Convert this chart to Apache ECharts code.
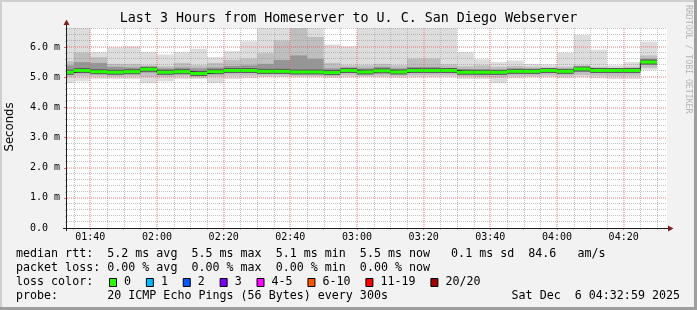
<!DOCTYPE html>
<html><head><meta charset="utf-8">
<script src="https://cdn.jsdelivr.net/npm/echarts@6/dist/echarts.min.js"></script>
<style>html,body{margin:0;padding:0;background:#f2f2f2}#c{width:697px;height:310px}</style>
</head><body><div id="c"></div>
<script>
// ---------------- data ----------------
const chartTitle = 'Last 3 Hours from Homeserver to U. C. San Diego Webserver';
const viewStart = '01:33';
const viewEnd = '04:33';
// 5-minute step edges (36 steps)
const stepEdges = ['01:30','01:35','01:40','01:45','01:50','01:55','02:00','02:05','02:10','02:15','02:20','02:25',
  '02:30','02:35','02:40','02:45','02:50','02:55','03:00','03:05','03:10','03:15','03:20','03:25',
  '03:30','03:35','03:40','03:45','03:50','03:55','04:00','04:05','04:10','04:15','04:20','04:25','04:30'];
// values in ms
const medianRtt = [5.17,5.23,5.19,5.17,5.19,5.27,5.17,5.19,5.13,5.19,5.23,5.23,5.20,5.20,5.18,5.18,5.16,5.23,
  5.18,5.22,5.18,5.23,5.23,5.23,5.17,5.17,5.17,5.20,5.20,5.23,5.20,5.28,5.23,5.23,5.23,5.51];
const smokeMax = [6.64,6.64,5.84,6.00,6.03,5.84,5.76,5.84,5.95,5.67,5.87,6.20,6.64,6.64,6.64,6.64,6.09,6.03,
  6.64,6.64,6.64,6.64,6.64,6.64,5.84,5.60,5.51,5.56,5.45,5.43,5.82,6.41,5.92,5.40,5.51,6.19];
const smokeHigh = [5.54,5.82,5.67,5.45,5.45,5.40,5.37,5.48,5.40,5.48,5.58,5.62,5.80,6.22,6.64,6.34,5.48,5.40,
  5.40,5.45,5.40,5.62,5.62,5.43,5.37,5.40,5.35,5.38,5.35,5.33,5.35,5.40,5.35,5.32,5.35,5.73];
const smokeUpper = [5.40,5.51,5.48,5.35,5.33,5.33,5.30,5.33,5.30,5.33,5.38,5.40,5.45,5.58,5.73,5.62,5.30,5.33,
  5.30,5.35,5.30,5.35,5.35,5.32,5.28,5.27,5.25,5.30,5.28,5.28,5.27,5.35,5.30,5.28,5.30,5.62];
const smokeLower = [5.10,5.14,5.12,5.10,5.12,5.16,5.10,5.12,5.06,5.12,5.15,5.15,5.13,5.13,5.11,5.12,5.10,5.16,
  5.11,5.14,5.11,5.16,5.16,5.16,5.10,5.09,5.08,5.13,5.13,5.16,5.13,5.18,5.16,5.15,5.16,5.42];
const smokeLow = [5.02,5.05,5.05,5.03,5.05,5.02,5.02,5.05,5.00,5.03,5.06,5.06,5.06,5.06,5.05,5.05,5.04,5.07,
  5.05,5.06,5.05,5.07,5.07,5.07,5.03,5.02,5.00,5.05,5.05,5.07,5.05,5.08,5.06,5.05,5.06,5.32];
const smokeMin = [4.81,4.87,4.95,4.95,4.95,4.81,4.87,4.95,4.95,4.81,4.95,4.97,5.01,5.01,5.00,5.00,4.98,5.00,
  5.01,5.00,4.98,5.00,5.00,5.01,4.95,4.95,4.81,4.97,5.00,5.00,4.97,5.00,4.97,4.95,4.95,5.25];
const xTickLabels = ['01:40','02:00','02:20','02:40','03:00','03:20','03:40','04:00','04:20'];
const yTickValues = [0,1,2,3,4,5,6];
const yTickLabels = ['0.0  ','1.0 m','2.0 m','3.0 m','4.0 m','5.0 m','6.0 m'];
const yMax = 6.64;
const lossLabels = ['0','1','2','3','4-5','6-10','11-19','20/20'];
const lossColors = ['#26ff00','#00b8ff','#0059ff','#7e00ff','#ff00ff','#ff5500','#ff0000','#a10000'];
const legendLines = [
  'median rtt:  5.2 ms avg  5.5 ms max  5.1 ms min  5.5 ms now   0.1 ms sd  84.6   am/s',
  'packet loss: 0.00 % avg  0.00 % max  0.00 % min  0.00 % now',
  'loss color:',
  'probe:       20 ICMP Echo Pings (56 Bytes) every 300s'
];
const stampText = 'Sat Dec  6 04:32:59 2025';
const yName = 'Seconds';
const watermark = 'RRDTOOL / TOBI OETIKER';

// ---------------- helpers ----------------
const MONO = 'DejaVu Sans Mono';
const toMin = s => { const p = s.split(':').map(Number); return p[0] * 60 + p[1]; };
const X_MIN = toMin(viewStart), X_MAX = toMin(viewEnd);
const majorX = xTickLabels.map(toMin);
const minorX = [];
for (let m = Math.ceil(X_MIN / 5) * 5; m <= X_MAX; m += 5) if (majorX.indexOf(m) < 0) minorX.push(m);
const minorY = [];
for (let k = 1; k * 0.2 <= yMax + 1e-9; k++) if (k % 5 !== 0) minorY.push(+(k * 0.2).toFixed(1));

const GRID_MINOR = 'rgba(143,143,143,0.55)';
const GRID_MAJOR = 'rgba(230,70,70,0.7)';

function band(lo, hi) {
  return medianRtt.map((_, i) => [toMin(stepEdges[i]), toMin(stepEdges[i + 1]), lo[i], hi[i]]);
}
function rectRenderer(color) {
  return function (params, api) {
    const a = api.coord([api.value(0), api.value(3)]);
    const b = api.coord([api.value(1), api.value(2)]);
    const cs = params.coordSys;
    const r = echarts.graphic.clipRectByRect(
      { x: a[0], y: a[1], width: b[0] - a[0], height: b[1] - a[1] },
      { x: cs.x, y: cs.y, width: cs.width, height: cs.height });
    if (!r) return;
    return { type: 'rect', shape: r, style: { fill: color } };
  };
}
function segRenderer(color, width) {
  return function (params, api) {
    const cs = params.coordSys;
    const a = api.coord([api.value(0), api.value(2)]);
    const b = api.coord([api.value(1), api.value(2)]);
    const x1 = Math.max(a[0], cs.x), x2 = Math.min(b[0], cs.x + cs.width);
    if (x2 <= x1) return;
    return { type: 'line', shape: { x1: x1, y1: a[1], x2: x2, y2: a[1] }, style: { stroke: color, lineWidth: width } };
  };
}
function vGrid(color, off) {
  return function (params, api) {
    const cs = params.coordSys;
    const x = Math.round(api.coord([api.value(0), 0])[0]) + off;
    return { type: 'line', shape: { x1: x, y1: cs.y, x2: x, y2: cs.y + cs.height },
      style: { stroke: color, lineWidth: 1, lineDash: [1, 1] } };
  };
}
function hGrid(color, off) {
  return function (params, api) {
    const cs = params.coordSys;
    const y = Math.round(api.coord([X_MIN, api.value(1)])[1]) - off;
    return { type: 'line', shape: { x1: cs.x, y1: y, x2: cs.x + cs.width, y2: y },
      style: { stroke: color, lineWidth: 1, lineDash: [1, 1] } };
  };
}
const medData = medianRtt.map((v, i) => [toMin(stepEdges[i]), toMin(stepEdges[i + 1]), v]);
const stepLine = medianRtt.map((v, i) => [toMin(stepEdges[i]), v]);
stepLine.push([toMin(stepEdges[stepEdges.length - 1]), medianRtt[medianRtt.length - 1]]);

function smokeSeries(lo, hi, color) {
  return { type: 'custom', z: 1, silent: true,
    renderItem: rectRenderer(color), encode: { x: [0, 1], y: [2, 3] }, data: band(lo, hi) };
}
function gridSeries(render, data) {
  return { type: 'custom', z: 3, silent: true, renderItem: render, encode: { x: 0, y: 1 }, data: data };
}

// ---------------- graphic (texts & frame) ----------------
const CH = 0.6021 * 11.67;
const graphic = [
  { type: 'rect', shape: { x: 0, y: 0, width: 697, height: 2 }, style: { fill: '#cfcfcf' }, silent: true },
  { type: 'rect', shape: { x: 0, y: 0, width: 2, height: 310 }, style: { fill: '#cfcfcf' }, silent: true },
  { type: 'rect', shape: { x: 0, y: 307, width: 697, height: 3 }, style: { fill: '#9e9e9e' }, silent: true },
  { type: 'rect', shape: { x: 694, y: 0, width: 3, height: 310 }, style: { fill: '#9e9e9e' }, silent: true },
  { type: 'line', shape: { x1: 66.5, y1: 231, x2: 66.5, y2: 24 }, style: { stroke: '#1f1f1f', lineWidth: 1 }, z: 10 },
  { type: 'line', shape: { x1: 63, y1: 228.5, x2: 668, y2: 228.5 }, style: { stroke: '#1f1f1f', lineWidth: 1 }, z: 10 },
  { type: 'polygon', shape: { points: [[63.5, 25], [69.5, 25], [66.5, 19.5]] }, style: { fill: '#801f1f' }, z: 10 },
  { type: 'polygon', shape: { points: [[668, 225.5], [668, 231.5], [673.5, 228.5]] }, style: { fill: '#801f1f' }, z: 10 },
  { type: 'text', x: 10, y: 127, rotation: Math.PI / 2,
    style: { text: yName, font: '11.67px "DejaVu Sans"', fill: '#000', align: 'center', verticalAlign: 'middle' } },
  { type: 'text', x: 688, y: 5, rotation: -Math.PI / 2,
    style: { text: watermark, font: '8.2px "DejaVu Sans Mono"', fill: '#b4b4b4', align: 'left', verticalAlign: 'middle' } },
  { type: 'text', x: 680, y: 295.7,
    style: { text: stampText, font: '11.67px "DejaVu Sans Mono"', fill: '#000', align: 'right', verticalAlign: 'middle' } }
];
const lineY = [254.3, 267.7, 282.3, 295.7];
legendLines.forEach((t, i) => graphic.push({ type: 'text', x: 16, y: lineY[i],
  style: { text: t, font: '11.67px "DejaVu Sans Mono"', fill: '#000', align: 'left', verticalAlign: 'middle' } }));
let bx = 109;
lossLabels.forEach((lab, i) => {
  graphic.push({ type: 'rect', shape: { x: bx + 0.5, y: 278.5, width: 7, height: 8 },
    style: { fill: lossColors[i], stroke: '#000', lineWidth: 1 } });
  const lx = bx + 15;
  graphic.push({ type: 'text', x: lx, y: lineY[2],
    style: { text: lab, font: '11.67px "DejaVu Sans Mono"', fill: '#000', align: 'left', verticalAlign: 'middle' } });
  bx = lx + (lab.length + 2) * CH + 0.8;
});

// ---------------- option ----------------
const option = {
  animation: false,
  backgroundColor: '#f2f2f2',
  title: { text: chartTitle, left: 'center', top: 12, padding: 0,
    textStyle: { fontFamily: MONO, fontSize: 13.33, fontWeight: 'normal', color: '#000' } },
  grid: { left: 67, right: 30, top: 28, bottom: 82, show: true, backgroundColor: '#ffffff', borderWidth: 0 },
  xAxis: [
    { type: 'value', min: X_MIN, max: X_MAX, position: 'bottom', axisLine: { show: false }, splitLine: { show: false },
      axisTick: { show: true, customValues: minorX, length: 2, lineStyle: { color: GRID_MINOR } },
      axisLabel: { show: false } },
    { type: 'value', min: X_MIN, max: X_MAX, position: 'bottom', axisLine: { show: false }, splitLine: { show: false },
      axisTick: { show: true, customValues: majorX, length: 2, lineStyle: { color: GRID_MAJOR } },
      axisLabel: { show: true, customValues: majorX, margin: 4, fontFamily: MONO, fontSize: 10, color: '#000',
        formatter: v => { const i = majorX.indexOf(Math.round(v)); return i >= 0 ? xTickLabels[i] : ''; } } }
  ],
  yAxis: [
    { type: 'value', min: 0, max: yMax, position: 'left', axisLine: { show: false }, splitLine: { show: false },
      axisTick: { show: true, customValues: minorY, length: 2, lineStyle: { color: GRID_MINOR } },
      axisLabel: { show: false } },
    { type: 'value', min: 0, max: yMax, position: 'left', axisLine: { show: false }, splitLine: { show: false },
      axisTick: { show: true, customValues: yTickValues, length: 3, lineStyle: { color: 'rgba(222,79,79,0.8)' } },
      axisLabel: { show: true, customValues: yTickValues, margin: 7, fontFamily: MONO, fontSize: 10, color: '#000',
        formatter: v => { const i = yTickValues.indexOf(Math.round(v)); return i >= 0 ? yTickLabels[i] : ''; } } }
  ],
  series: [
    smokeSeries(smokeMin, smokeMax, '#dddddd'),
    smokeSeries(smokeLow, smokeHigh, '#bfbfbf'),
    smokeSeries(smokeLower, smokeUpper, '#969696'),
    gridSeries(vGrid(GRID_MINOR, 0.5), minorX.map(v => [v, 0])),
    gridSeries(hGrid(GRID_MINOR, 0.5), minorY.map(v => [X_MIN, v])),
    gridSeries(vGrid(GRID_MAJOR, 0), majorX.map(v => [v, 0])),
    gridSeries(hGrid(GRID_MAJOR, 0), yTickValues.filter(v => v > 0).map(v => [X_MIN, v])),
    { type: 'custom', z: 4, silent: true, renderItem: segRenderer('#5a5a5a', 5),
      encode: { x: [0, 1], y: 2 }, data: medData },
    { type: 'line', z: 5, step: 'end', symbol: 'none', silent: true,
      lineStyle: { color: '#202020', width: 1 }, data: stepLine },
    { type: 'custom', z: 6, silent: true, renderItem: segRenderer('#26ff00', 3),
      encode: { x: [0, 1], y: 2 }, data: medData }
  ],
  graphic: graphic
};
const chart = echarts.init(document.getElementById('c'));
chart.setOption(option);
</script>
</body></html>
